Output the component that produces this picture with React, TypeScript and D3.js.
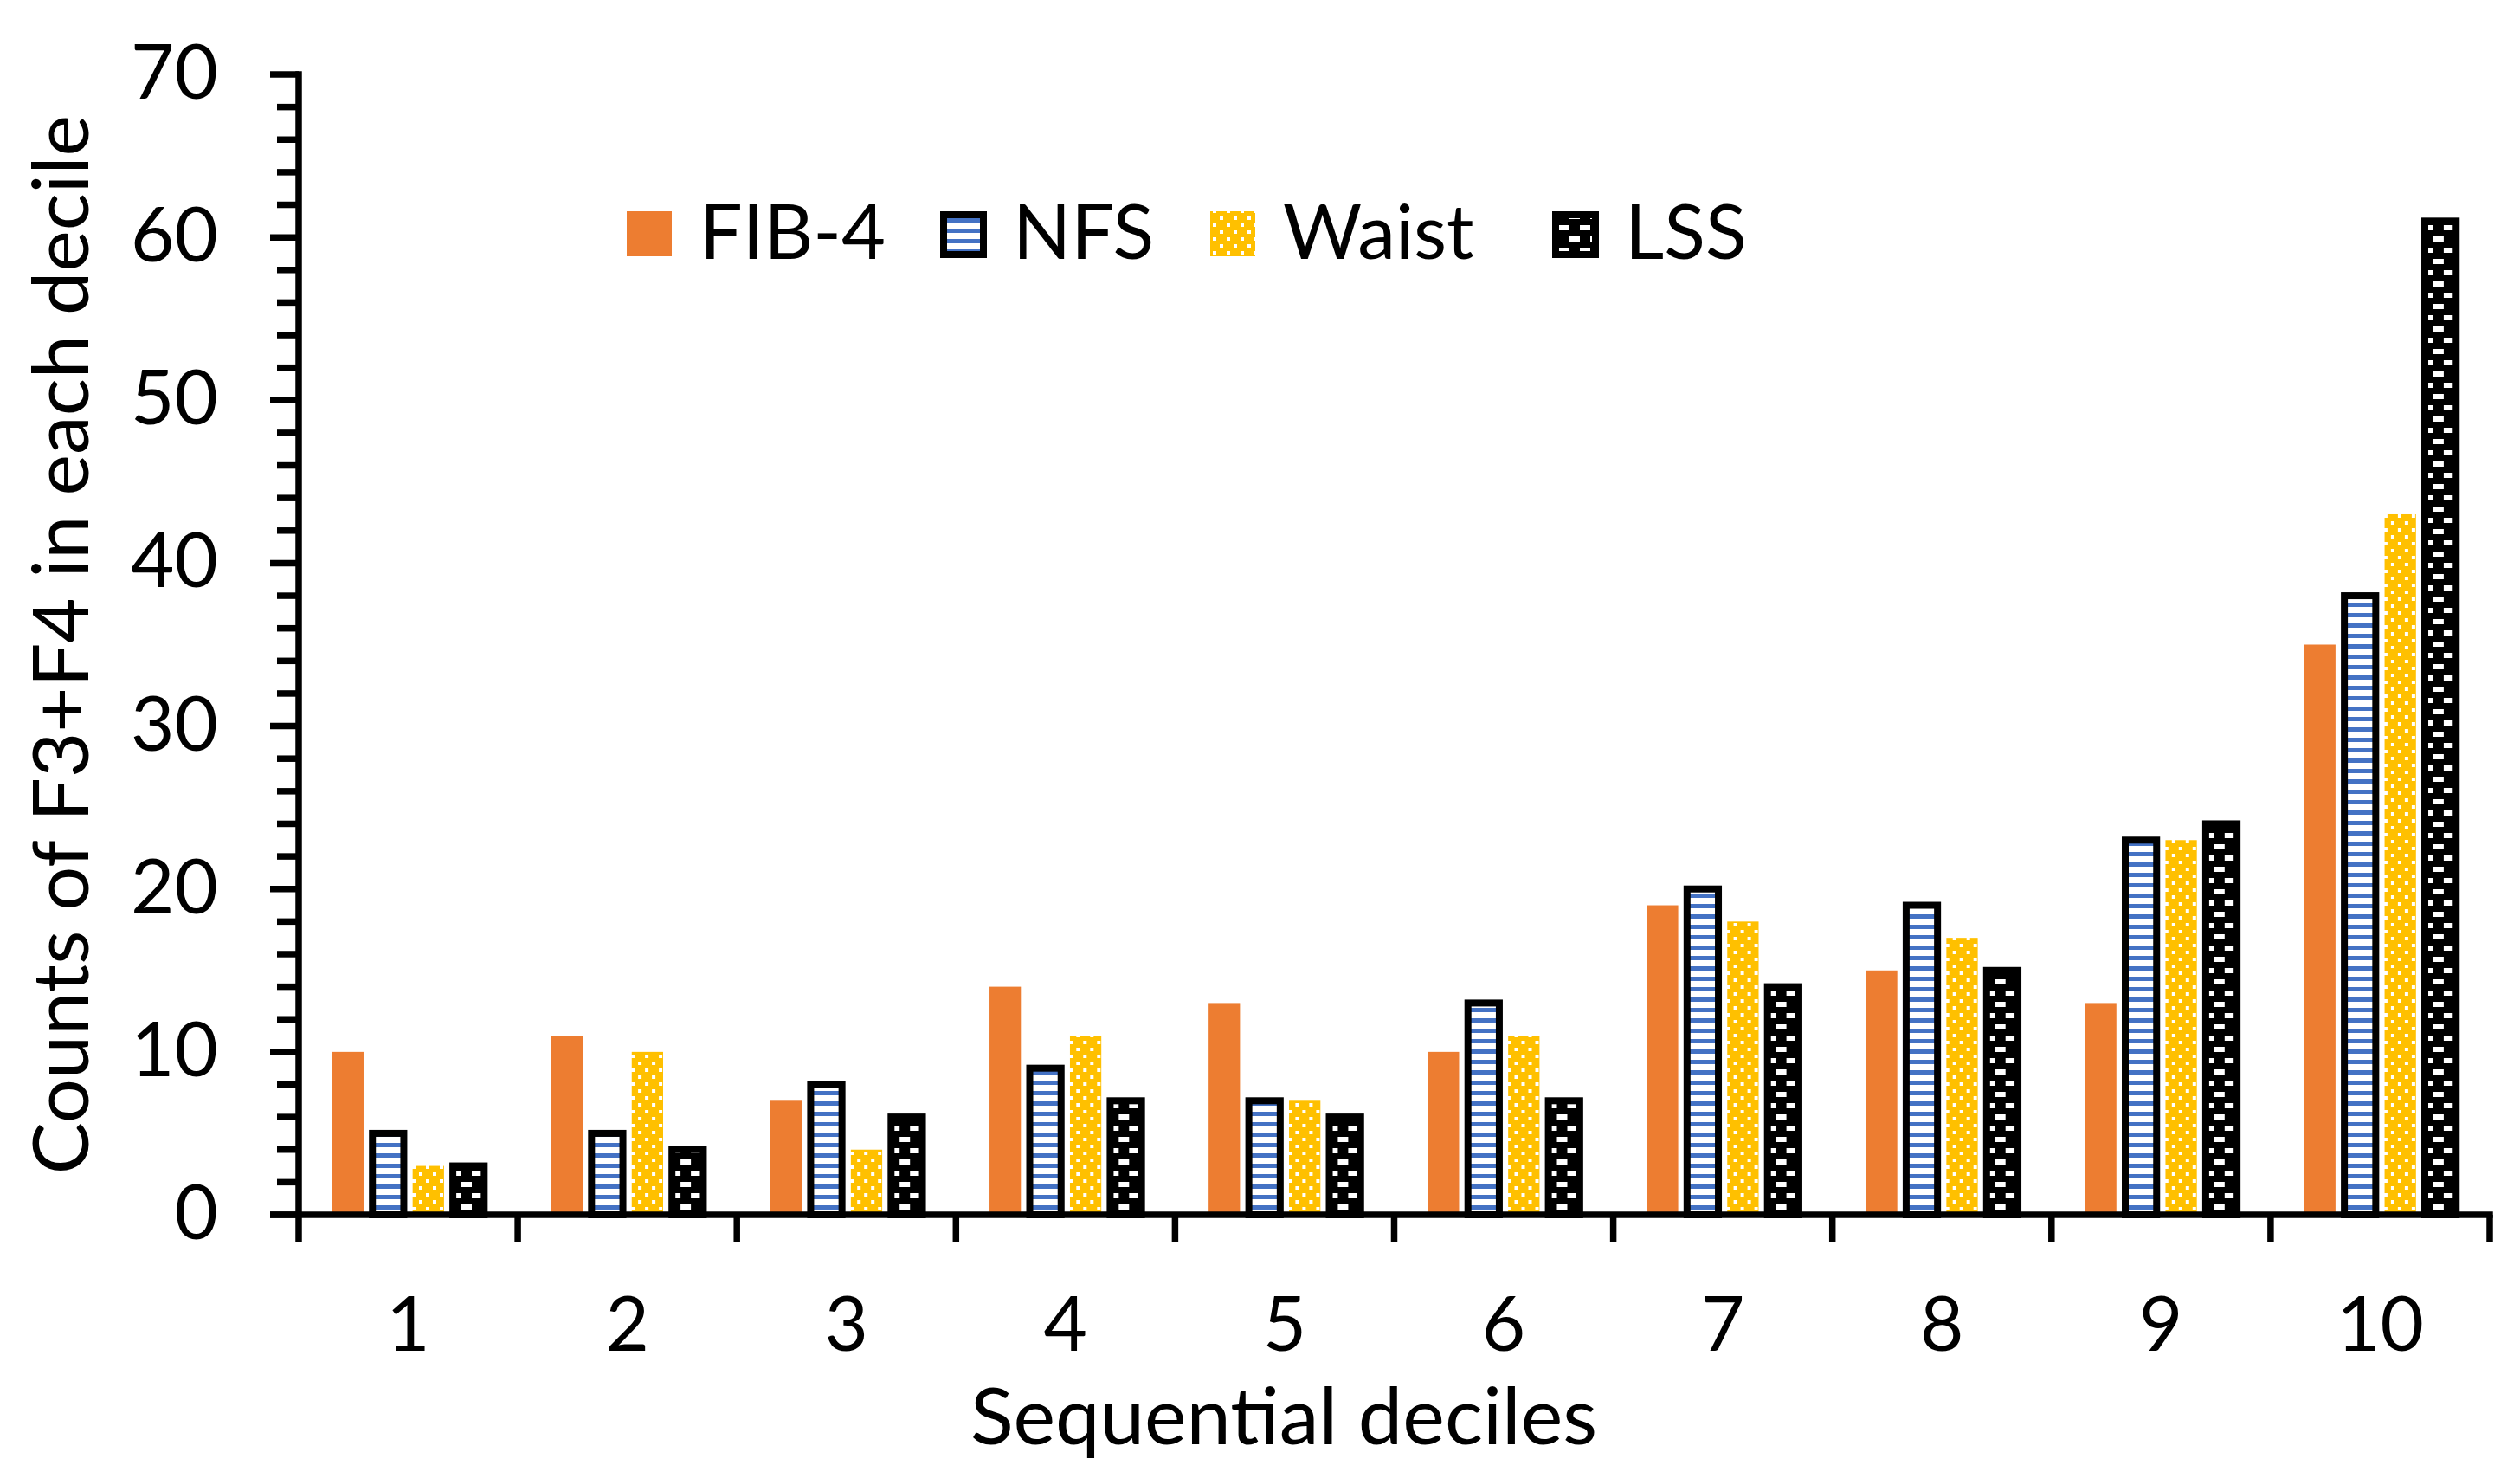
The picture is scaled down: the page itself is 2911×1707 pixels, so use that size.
import React, { useEffect, useRef } from 'react';
import * as d3 from 'd3';

const deciles = ['1', '2', '3', '4', '5', '6', '7', '8', '9', '10'];
const seriesNames = ['FIB-4', 'NFS', 'Waist', 'LSS'];
const fib4 = [10, 11, 7, 14, 13, 10, 19, 15, 13, 35];
const nfs = [5, 5, 8, 9, 7, 13, 20, 19, 23, 38];
const waist = [3, 10, 4, 11, 7, 11, 18, 17, 23, 43];
const lss = [3, 4, 6, 7, 6, 7, 14, 15, 24, 61];
const yTicks = [0, 10, 20, 30, 40, 50, 60, 70];
const yMinorTicks = d3.range(0, 71, 2).filter(v => v % 10 !== 0);

const W = 2911;
const H = 1707;
const FONT = 'Lato, "Open Sans", sans-serif';

const App: React.FC = () => {
  const svgRef = useRef<SVGSVGElement>(null);

  useEffect(() => {
    document.body.style.margin = '0';
    if (!svgRef.current) return;
    const svg = d3.select(svgRef.current);
    svg.selectAll('*').remove();

    const rows = deciles.map((d, i) => ({
      decile: d,
      values: [fib4[i], nfs[i], waist[i], lss[i]],
    }));

    const left = 345, right = 2876, top = 86, bottom = 1403;

    const x0 = d3.scaleBand().domain(deciles).range([left, right]).padding(0);
    const x1 = d3.scaleBand().domain(seriesNames).range([0, x0.bandwidth()])
      .paddingInner(0.22).paddingOuter(0.834);
    const y = d3.scaleLinear().domain([0, 70]).range([bottom, top]);

    // patterns
    const defs = svg.append('defs');
    const pNfs = defs.append('pattern').attr('id', 'pat-nfs')
      .attr('patternUnits', 'userSpaceOnUse').attr('width', 12).attr('height', 12);
    pNfs.append('rect').attr('width', 12).attr('height', 12).attr('fill', '#fff');
    pNfs.append('rect').attr('y', 0).attr('width', 12).attr('height', 5).attr('fill', '#4472C4');

    const pWaist = defs.append('pattern').attr('id', 'pat-waist')
      .attr('patternUnits', 'userSpaceOnUse').attr('width', 16).attr('height', 16);
    pWaist.append('rect').attr('width', 16).attr('height', 16).attr('fill', '#FFC000');
    pWaist.append('rect').attr('x', 3).attr('y', 2).attr('width', 4).attr('height', 4).attr('fill', '#fff');
    pWaist.append('rect').attr('x', 11).attr('y', 10).attr('width', 4).attr('height', 4).attr('fill', '#fff');

    const pLss = defs.append('pattern').attr('id', 'pat-lss')
      .attr('patternUnits', 'userSpaceOnUse').attr('width', 24).attr('height', 26);
    pLss.append('rect').attr('width', 24).attr('height', 26).attr('fill', '#000');
    pLss.append('rect').attr('x', 8).attr('y', 0).attr('width', 12).attr('height', 6).attr('fill', '#fff');
    pLss.append('rect').attr('x', 20).attr('y', 13).attr('width', 12).attr('height', 6).attr('fill', '#fff');
    pLss.append('rect').attr('x', -4).attr('y', 13).attr('width', 12).attr('height', 6).attr('fill', '#fff');

    const fills = ['#ED7D31', 'url(#pat-nfs)', 'url(#pat-waist)', 'url(#pat-lss)'];
    const outlined = [false, true, false, true];

    // bars
    const groups = svg.append('g').selectAll('g').data(rows).join('g')
      .attr('transform', d => `translate(${x0(d.decile)},0)`);
    groups.selectAll('rect')
      .data(d => d.values.map((v, i) => ({ v, i })))
      .join('rect')
      .attr('x', d => x1(seriesNames[d.i]) as number)
      .attr('y', d => y(d.v))
      .attr('width', x1.bandwidth())
      .attr('height', d => bottom - y(d.v))
      .attr('fill', d => fills[d.i])
      .attr('stroke', d => (outlined[d.i] ? '#000' : 'none'))
      .attr('stroke-width', 8);

    const axisW = 7.5;
    const ax = svg.append('g').attr('stroke', '#000').attr('stroke-width', axisW);

    // y axis
    ax.append('line').attr('x1', left).attr('x2', left).attr('y1', top - axisW / 2).attr('y2', bottom);
    ax.selectAll('line.major').data(yTicks).join('line').attr('class', 'major')
      .attr('x1', left - 33).attr('x2', left).attr('y1', d => y(d)).attr('y2', d => y(d));
    ax.selectAll('line.minor').data(yMinorTicks).join('line').attr('class', 'minor')
      .attr('x1', left - 25).attr('x2', left).attr('y1', d => y(d)).attr('y2', d => y(d));

    // x axis
    ax.append('line').attr('x1', left - 33).attr('x2', right + axisW / 2).attr('y1', bottom).attr('y2', bottom);
    const xTickPos = deciles.map(d => x0(d) as number).concat([right]);
    ax.selectAll('line.xt').data(xTickPos).join('line').attr('class', 'xt')
      .attr('x1', d => d).attr('x2', d => d).attr('y1', bottom).attr('y2', bottom + 32);

    // tick labels
    svg.append('g').selectAll('text').data(yTicks).join('text')
      .attr('x', 252).attr('y', d => y(d) + 28)
      .attr('text-anchor', 'end')
      .attr('font-family', FONT).attr('font-size', 87).attr('fill', '#000')
      .text(d => d);

    svg.append('g').selectAll('text').data(deciles).join('text')
      .attr('x', d => (x0(d) as number) + x0.bandwidth() / 2).attr('y', 1560)
      .attr('text-anchor', 'middle')
      .attr('font-family', FONT).attr('font-size', 87).attr('fill', '#000')
      .text(d => d);

    // axis titles
    svg.append('text')
      .attr('x', 1483).attr('y', 1668).attr('text-anchor', 'middle')
      .attr('font-family', FONT).attr('font-size', 92).attr('fill', '#000')
      .text('Sequential deciles');

    svg.append('text')
      .attr('transform', `translate(102,${(top + bottom) / 2}) rotate(-90)`)
      .attr('text-anchor', 'middle')
      .attr('font-family', FONT).attr('font-size', 90).attr('fill', '#000')
      .text('Counts of F3+F4 in each decile');

    // legend
    const legendX = [724, 1086, 1398, 1793];
    const leg = svg.append('g').selectAll('g').data(seriesNames).join('g')
      .attr('transform', (_, i) => `translate(${legendX[i]},0)`);
    leg.append('rect')
      .attr('x', (_, i) => (outlined[i] ? 4 : 0))
      .attr('y', (_, i) => (outlined[i] ? 248 : 244))
      .attr('width', (_, i) => (outlined[i] ? 46 : 52))
      .attr('height', (_, i) => (outlined[i] ? 46 : 52))
      .attr('fill', (_, i) => fills[i])
      .attr('stroke', (_, i) => (outlined[i] ? '#000' : 'none'))
      .attr('stroke-width', 8);
    leg.append('text')
      .attr('x', 84).attr('y', 299)
      .attr('font-family', FONT).attr('font-size', 88).attr('fill', '#000')
      .text(d => d);
  }, []);

  return <svg ref={svgRef} width={W} height={H} style={{ display: 'block', background: '#fff' }} />;
};

export default App;
